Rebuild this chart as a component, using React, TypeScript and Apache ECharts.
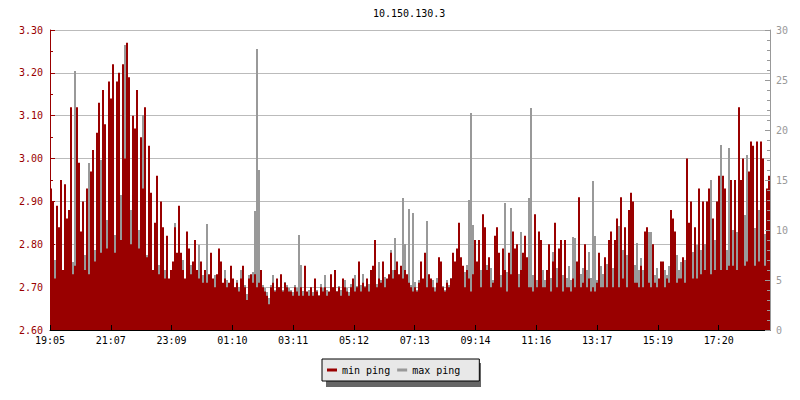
import { useEffect, useRef } from 'react';
import * as echarts from 'echarts';

const TITLE = '10.150.130.3';
const SERIES_NAMES = ['min ping', 'max ping'];
const TIME_LABELS = ['19:05', '21:07', '23:09', '01:10', '03:11', '05:12', '07:13', '09:14', '11:16', '13:17', '15:19', '17:20'];
// spacing of the time labels, in sample slots
const LABEL_STEP = 30.395;

// min ping (left axis)
const minPing = [
  2.93, 2.90, 2.72, 2.89, 2.84, 2.95, 2.74, 2.94, 2.86, 2.88,
  3.12, 2.73, 2.75, 3.12, 2.99, 2.83, 2.90, 2.74, 2.93, 2.73,
  2.97, 3.02, 2.76, 3.06, 3.13, 2.78, 3.16, 3.08, 2.79, 3.18,
  3.14, 3.22, 2.78, 3.18, 3.20, 2.81, 3.22, 3.00, 3.27, 3.19,
  2.80, 3.10, 3.07, 3.16, 2.79, 3.05, 2.93, 3.12, 2.77, 3.03,
  2.92, 2.74, 2.85, 2.96, 2.73, 2.90, 2.84, 2.72, 2.82, 2.72,

  2.74, 2.76, 2.84, 2.78, 2.89, 2.78, 2.74, 2.72, 2.83, 2.79,
  2.73, 2.76, 2.81, 2.74, 2.72, 2.76, 2.71, 2.74, 2.71, 2.73,
  2.78, 2.72, 2.70, 2.73, 2.79, 2.76, 2.71, 2.72, 2.70, 2.71,
  2.75, 2.72, 2.70, 2.71, 2.69, 2.72, 2.75, 2.70, 2.67, 2.72,
  2.73, 2.71, 2.73, 2.70, 2.71, 2.74, 2.70, 2.69, 2.68, 2.66,
  2.70, 2.71, 2.69, 2.72, 2.70, 2.73, 2.69, 2.71, 2.70, 2.69,

  2.69, 2.68, 2.70, 2.69, 2.68, 2.70, 2.68, 2.75, 2.69, 2.68,
  2.70, 2.68, 2.72, 2.69, 2.68, 2.70, 2.69, 2.70, 2.68, 2.69,
  2.73, 2.70, 2.74, 2.69, 2.70, 2.68, 2.72, 2.70, 2.69, 2.68,
  2.70, 2.72, 2.69, 2.70, 2.76, 2.69, 2.71, 2.70, 2.72, 2.69,
  2.74, 2.75, 2.81, 2.70, 2.72, 2.71, 2.76, 2.70, 2.72, 2.73,
  2.78, 2.72, 2.74, 2.76, 2.73, 2.75, 2.72, 2.74, 2.73, 2.71,

  2.70, 2.69, 2.70, 2.69, 2.71, 2.76, 2.72, 2.78, 2.70, 2.73,
  2.72, 2.70, 2.69, 2.71, 2.77, 2.76, 2.70, 2.69, 2.71, 2.70,
  2.72, 2.78, 2.76, 2.79, 2.85, 2.77, 2.75, 2.70, 2.74, 2.72,
  2.69, 2.73, 2.81, 2.76, 2.81, 2.70, 2.87, 2.84, 2.74, 2.77,
  2.70, 2.71, 2.82, 2.84, 2.78, 2.70, 2.79, 2.74, 2.69, 2.78,
  2.73, 2.83, 2.79, 2.80, 2.70, 2.74, 2.78, 2.82, 2.77, 2.70,

  2.70, 2.69, 2.87, 2.70, 2.83, 2.81, 2.70, 2.70, 2.74, 2.80,
  2.69, 2.76, 2.85, 2.70, 2.79, 2.81, 2.69, 2.81, 2.70, 2.70,
  2.69, 2.72, 2.70, 2.76, 2.91, 2.70, 2.71, 2.80, 2.70, 2.72,
  2.69, 2.70, 2.69, 2.71, 2.78, 2.70, 2.70, 2.77, 2.70, 2.81,
  2.83, 2.70, 2.81, 2.86, 2.70, 2.91, 2.72, 2.84, 2.70, 2.88,
  2.92, 2.90, 2.71, 2.71, 2.70, 2.75, 2.70, 2.83, 2.84, 2.71,

  2.70, 2.80, 2.71, 2.70, 2.72, 2.76, 2.76, 2.70, 2.72, 2.71,
  2.88, 2.86, 2.83, 2.71, 2.72, 2.72, 2.77, 2.71, 3.00, 2.85,
  2.90, 2.72, 2.84, 2.72, 2.93, 2.73, 2.90, 2.74, 2.90, 2.93,
  2.73, 2.86, 2.74, 2.90, 2.96, 2.74, 2.96, 2.93, 2.74, 2.75,
  2.95, 2.75, 2.95, 2.74, 3.12, 2.95, 3.00, 2.75, 2.76, 2.97,
  3.04, 3.03, 2.75, 3.04, 2.76, 3.04, 3.00, 2.75, 2.93, 2.96,
];

// max ping (right axis)
const maxPing = [
  6.0, 7.5, 7.0, 6.5, 5.5, 7.8, 6.0, 5.5, 6.5, 5.0,
  6.0, 6.8, 25.9, 7.5, 6.5, 8.5, 6.0, 7.5, 7.0, 16.7,
  6.5, 7.5, 8.0, 7.0, 8.5, 17.0, 8.0, 13.0, 11.0, 10.5,
  9.0, 11.0, 9.5, 9.0, 10.0, 13.5, 11.0, 28.5, 15.0, 12.0,
  12.0, 10.0, 8.0, 11.0, 10.0, 8.0, 21.5, 8.5, 7.5, 7.0,
  6.5, 5.5, 6.0, 5.0, 6.5, 5.5, 5.0, 6.0, 5.5, 4.8,

  5.5, 6.5, 10.7, 6.0, 7.0, 5.5, 7.0, 5.0, 6.0, 5.5,
  6.5, 5.0, 6.0, 5.5, 8.5, 5.0, 5.5, 4.8, 10.6, 5.2,
  6.0, 5.0, 5.5, 4.5, 5.0, 5.8, 4.6, 6.0, 5.0, 4.5,
  5.2, 4.8, 4.2, 5.0, 4.3, 6.0, 5.0, 4.5, 3.6, 5.5,
  4.6, 5.8, 11.9, 28.1, 16.0, 6.0, 4.5, 4.2, 3.8, 3.2,
  4.5, 5.5, 4.0, 5.0, 4.3, 5.2, 4.0, 4.8, 4.5, 4.2,

  4.0, 3.8, 4.5, 4.2, 9.5, 6.5, 3.9, 4.5, 3.6, 4.0,
  4.2, 3.8, 4.4, 4.0, 3.5, 4.6, 4.2, 5.5, 4.0, 3.8,
  4.5, 4.3, 4.8, 3.9, 4.4, 4.0, 4.5, 5.0, 4.2, 3.8,
  4.6, 4.2, 5.5, 4.4, 5.0, 4.5, 5.6, 4.4, 5.0, 4.6,
  4.8, 5.2, 5.0, 4.6, 6.8, 5.0, 5.4, 5.3, 4.6, 5.0,
  8.0, 6.0, 9.2, 5.5, 5.0, 6.0, 13.2, 8.6, 5.5, 12.1,

  4.5, 11.7, 4.8, 4.0, 5.0, 4.6, 5.0, 4.4, 10.9, 5.5,
  4.5, 5.0, 4.2, 5.2, 4.8, 5.6, 4.4, 4.0, 5.0, 4.5,
  5.2, 5.6, 6.0, 5.2, 5.6, 6.2, 5.0, 5.8, 6.5, 13.0,
  21.7, 10.5, 5.5, 6.2, 5.0, 6.0, 5.8, 5.2, 6.5, 5.6,
  6.2, 5.0, 6.0, 5.4, 6.6, 5.5, 6.0, 12.7, 5.8, 6.4,
  12.2, 6.0, 5.5, 6.2, 5.6, 9.8, 6.0, 5.4, 6.6, 13.2,

  22.2, 5.5, 6.0, 5.0, 6.2, 5.4, 6.0, 5.0, 5.6, 6.0,
  5.2, 7.8, 5.6, 6.2, 5.0, 6.5, 5.5, 6.0, 5.2, 6.4,
  5.0, 9.3, 9.2, 6.0, 6.5, 5.6, 6.2, 5.5, 6.0, 7.8,
  5.2, 14.9, 9.4, 5.0, 5.8, 6.4, 5.6, 6.0, 6.6, 6.0,
  7.0, 6.2, 8.5, 6.8, 10.4, 7.0, 8.0, 6.6, 7.5, 6.8,
  7.2, 8.0, 6.5, 8.7, 6.0, 7.2, 6.0, 7.0, 6.5, 9.8,

  9.8, 6.0, 5.5, 6.2, 5.0, 6.5, 5.6, 6.0, 5.5, 6.4,
  6.0, 7.0, 6.2, 7.5, 6.0, 6.8, 5.8, 7.0, 6.5, 7.2,
  6.6, 7.8, 7.0, 8.5, 7.0, 8.0, 7.2, 8.6, 7.0, 8.2,
  15.0, 8.0, 9.0, 7.6, 8.4, 18.5, 8.8, 9.5, 8.0, 18.2,
  9.0, 10.0, 8.6, 9.8, 9.0, 10.5, 9.4, 11.5, 17.5, 10.0,
  9.0, 11.0, 10.2, 9.5, 12.0, 10.0, 11.2, 9.6, 8.5, 9.0,
];

const FONT = 'DejaVu Sans Mono';
const RED = '#990000';
const GREY = '#999999';

export default function App() {
  const ref = useRef<HTMLDivElement>(null);

  useEffect(() => {
    if (!ref.current) return;
    const chart = echarts.init(ref.current, null, { renderer: 'svg' });
    const categories = minPing.map((_, i) => String(i));
    const labelPositions = TIME_LABELS.map((_, i) => i * LABEL_STEP);

    chart.setOption({
      animation: false,
      backgroundColor: '#ffffff',
      title: {
        text: TITLE,
        left: 373,
        top: 8,
        padding: 0,
        textStyle: { fontFamily: FONT, fontSize: 10, fontWeight: 'normal', color: '#000' },
      },
      grid: { left: 50, top: 30, width: 720, height: 300, containLabel: false },
      graphic: [
        {
          type: 'rect',
          z: 0,
          shape: { x: 326, y: 363, width: 155, height: 24 },
          style: { fill: '#666666' },
        },
      ],
      legend: {
        data: SERIES_NAMES,
        left: 322,
        top: 359,
        orient: 'horizontal',
        padding: [6, 19, 6, 5],
        itemGap: 7,
        itemWidth: 10,
        itemHeight: 3,
        icon: 'rect',
        selectedMode: false,
        backgroundColor: '#e8e8e8',
        borderColor: '#000000',
        borderWidth: 1,
        z: 5,
        textStyle: { fontFamily: FONT, fontSize: 10, color: '#000' },
      },
      xAxis: [
        {
          type: 'category',
          data: categories,
          boundaryGap: true,
          axisLine: { show: true, lineStyle: { color: '#000', width: 1 } },
          axisTick: { show: false },
          axisLabel: { show: false },
          splitLine: { show: false },
          z: 10,
        },
        {
          type: 'value',
          min: 0,
          max: minPing.length,
          position: 'bottom',
          axisLine: { show: false },
          splitLine: { show: false },
          axisTick: {
            show: true,
            inside: true,
            length: 5,
            lineStyle: { color: '#000' },
            customValues: labelPositions,
          },
          axisLabel: {
            customValues: labelPositions,
            formatter: (v: number) => TIME_LABELS[Math.round(v / LABEL_STEP)] ?? '',
            fontFamily: FONT,
            fontSize: 10,
            color: '#000',
            margin: 5,
          },
          z: 10,
        },
      ],
      yAxis: [
        {
          type: 'value',
          position: 'left',
          min: 2.6,
          max: 3.3,
          interval: 0.1,
          axisLine: { show: true, lineStyle: { color: RED } },
          axisTick: { show: true, inside: true, length: 5, lineStyle: { color: RED } },
          minorTick: { show: true, splitNumber: 2, length: 3, lineStyle: { color: RED } },
          axisLabel: {
            formatter: (v: number) => v.toFixed(2),
            color: RED,
            fontFamily: FONT,
            fontSize: 10,
            margin: 7,
          },
          splitLine: { show: true, lineStyle: { color: '#bbbbbb', width: 1 } },
          z: 0,
        },
        {
          type: 'value',
          position: 'right',
          min: 0,
          max: 30,
          interval: 5,
          axisLine: { show: true, lineStyle: { color: GREY } },
          axisTick: { show: true, inside: true, length: 5, lineStyle: { color: GREY } },
          minorTick: { show: true, splitNumber: 5, length: 3, lineStyle: { color: GREY } },
          axisLabel: { color: GREY, fontFamily: FONT, fontSize: 10, margin: 6 },
          splitLine: { show: false },
          z: 10,
        },
      ],
      series: [
        {
          name: 'max ping',
          type: 'bar',
          xAxisIndex: 0,
          yAxisIndex: 1,
          data: maxPing,
          barWidth: '100%',
          barGap: '-100%',
          barCategoryGap: '0%',
          itemStyle: { color: GREY },
          z: 2,
        },
        {
          name: 'min ping',
          type: 'bar',
          xAxisIndex: 0,
          yAxisIndex: 0,
          data: minPing,
          barWidth: '100%',
          barGap: '-100%',
          barCategoryGap: '0%',
          itemStyle: { color: RED },
          z: 3,
        },
      ],
    });

    return () => chart.dispose();
  }, []);

  return (
    <div
      ref={ref}
      style={{ position: 'fixed', left: 0, top: 0, width: 800, height: 400 }}
    />
  );
}
